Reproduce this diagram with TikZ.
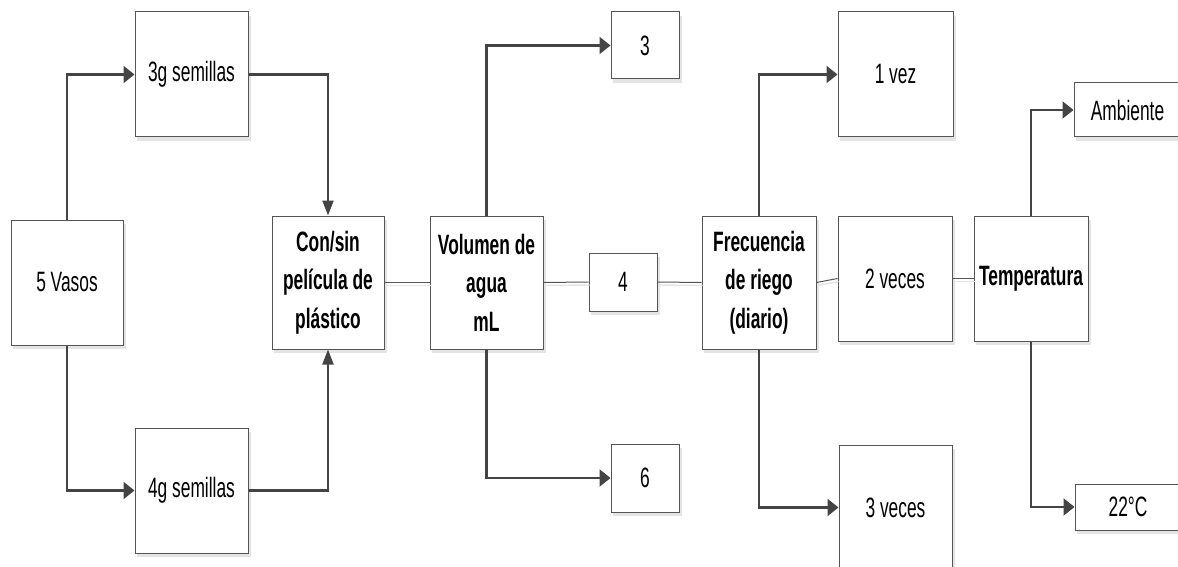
\documentclass[tikz,border=0pt]{standalone}
\usepackage{fontspec}
\usetikzlibrary{arrows.meta}
\newfontfamily\boxfont{Liberation Sans}[FakeStretch=0.62]
\definecolor{linegray}{HTML}{444444}
\definecolor{edgegray}{HTML}{555555}
\definecolor{shadowgray}{HTML}{E4E4E4}

\tikzset{
  box/.style={draw=edgegray, line width=1pt, fill=white, inner sep=0pt,
    font=\boxfont\fontsize{28}{38.5}\selectfont, align=center, text=black},
  boxshade/.style={fill=shadowgray},
  bold text/.style={font=\boxfont\bfseries\fontsize{28}{38.5}\selectfont},
  harrow/.style={draw=linegray, line width=2.2pt, -{Triangle[length=11pt,width=17pt]}},
  varrow/.style={draw=linegray, line width=2.2pt, -{Triangle[length=15pt,width=11pt]}},
  link/.style={draw=edgegray, line width=1pt,
    preaction={draw=shadowgray, line width=1.4pt, transform canvas={shift={(1pt,-3pt)}}}},
}

% box with a soft drop shadow:
% #1 name, #2 centre, #3 width, #4 height, #5 extra style, #6 text
\newcommand\flowbox[6]{%
  \path (#2) node[minimum width=#3, minimum height=#4, inner sep=0pt] (#1-s) {};
  \fill[boxshade] ([shift={(2.5,4)}]#1-s.north west) rectangle ([shift={(2.5,4)}]#1-s.south east);
  \node[box, minimum width=#3, minimum height=#4, #5] (#1) at (#2) {#6};
}

\begin{document}
\begin{tikzpicture}[x=1pt, y=-1pt]
\useasboundingbox (0,0) rectangle (1178,567);
\clip (0,0) rectangle (1178,567);
\fill[white] (0,0) rectangle (1178,567);

\flowbox{vasos}{67,282.5}{112pt}{125pt}{}{5 Vasos}
\flowbox{semA}{191.5,74.5}{113pt}{125pt}{}{3g semillas}
\flowbox{semB}{191.5,490.5}{113pt}{125pt}{}{4g semillas}
\flowbox{pelicula}{328,282.5}{112pt}{133pt}{bold text}{Con/sin\\película de\\plástico}
\flowbox{volumen}{486.5,282.5}{113pt}{133pt}{bold text}{Volumen de\\agua\\mL}
\flowbox{ml3}{645,45.5}{68pt}{67pt}{}{3}
\flowbox{ml4}{623,282}{68pt}{58pt}{}{4}
\flowbox{ml6}{645,478}{68pt}{68pt}{}{6}
\flowbox{riego}{759,282.5}{114pt}{133pt}{bold text}{Frecuencia\\de riego\\(diario)}
\flowbox{vez1}{895.5,74.5}{115pt}{125pt}{}{1 vez}
\flowbox{vez2}{895,278.5}{114pt}{125pt}{}{2 veces}
\flowbox{vez3}{895.5,507.5}{113pt}{125pt}{}{3 veces}
\flowbox{temp}{1031,278.5}{114pt}{125pt}{bold text}{Temperatura}
\flowbox{amb}{1127.5,110}{107pt}{54pt}{}{Ambiente}
\flowbox{t22}{1128,507}{106pt}{46pt}{}{22°C}

% branching arrows
\draw[harrow] (vasos.north) |- (semA.west);
\draw[harrow] (vasos.south) |- (semB.west);
\draw[varrow] (semA.east) -| (pelicula.north);
\draw[varrow] (semB.east) -| (pelicula.south);
\draw[harrow] (volumen.north) |- (ml3.west);
\draw[harrow] (volumen.south) |- (ml6.west);
\draw[harrow] (riego.north) |- (vez1.west);
\draw[harrow] (riego.south) |- (vez3.west);
\draw[harrow] (temp.north) |- (amb.west);
\draw[harrow] (temp.south) |- (t22.west);

% straight links along the main row
\draw[link] (pelicula.east) -- (volumen.west);
\draw[link] (volumen.east) -- (ml4.west);
\draw[link] (ml4.east) -- (riego.west);
\draw[link] (riego.east) -- (vez2.west);
\draw[link] (vez2.east) -- (temp.west);
\end{tikzpicture}
\end{document}
